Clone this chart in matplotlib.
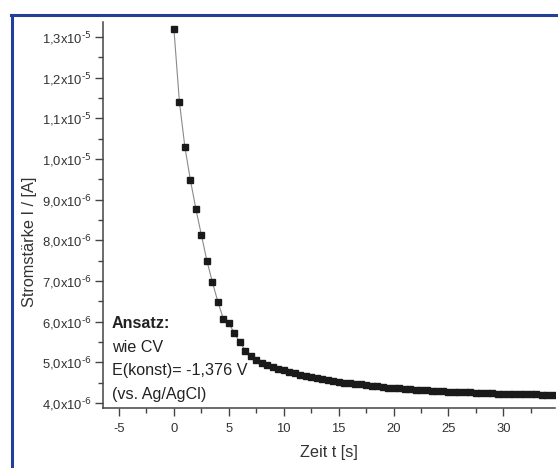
import matplotlib
matplotlib.use("Agg")
import matplotlib.pyplot as plt
from matplotlib.lines import Line2D
from matplotlib.ticker import MultipleLocator, FuncFormatter
import numpy as np

plt.rcParams['font.family'] = ['Liberation Sans', 'DejaVu Sans']
plt.rcParams['mathtext.default'] = 'regular'
plt.rcParams['axes.unicode_minus'] = False

# time in s (sample every 0.5 s)
t_s = [0.0, 0.5, 1.0, 1.5, 2.0, 2.5, 3.0, 3.5, 4.0, 4.5,
       5.0, 5.5, 6.0, 6.5, 7.0, 7.5, 8.0, 8.5, 9.0, 9.5,
       10.0, 10.5, 11.0, 11.5, 12.0, 12.5, 13.0, 13.5, 14.0, 14.5,
       15.0, 15.5, 16.0, 16.5, 17.0, 17.5, 18.0, 18.5, 19.0, 19.5,
       20.0, 20.5, 21.0, 21.5, 22.0, 22.5, 23.0, 23.5, 24.0, 24.5,
       25.0, 25.5, 26.0, 26.5, 27.0, 27.5, 28.0, 28.5, 29.0, 29.5,
       30.0, 30.5, 31.0, 31.5, 32.0, 32.5, 33.0, 33.5, 34.0, 34.5]
# current in 1e-6 A
i_micro = [13.19, 11.40, 10.29, 9.48, 8.77, 8.13, 7.50, 6.97, 6.49, 6.07,
           5.97, 5.71, 5.50, 5.29, 5.15, 5.06, 4.99, 4.93, 4.88, 4.84,
           4.80, 4.76, 4.73, 4.70, 4.67, 4.64, 4.62, 4.59, 4.57, 4.54,
           4.52, 4.50, 4.49, 4.47, 4.46, 4.44, 4.43, 4.41, 4.40, 4.38,
           4.37, 4.36, 4.35, 4.34, 4.33, 4.32, 4.31, 4.30, 4.30, 4.29,
           4.28, 4.27, 4.27, 4.26, 4.26, 4.25, 4.25, 4.24, 4.24, 4.23,
           4.23, 4.22, 4.22, 4.22, 4.21, 4.21, 4.21, 4.20, 4.20, 4.20]

x_ticks = [-5, 0, 5, 10, 15, 20, 25, 30]
y_ticks = [4e-6, 5e-6, 6e-6, 7e-6, 8e-6, 9e-6, 1.0e-5, 1.1e-5, 1.2e-5, 1.3e-5]

note_lines = ['Ansatz:', 'wie CV', 'E(konst)= -1,376 V', '(vs. Ag/AgCl)']

current = np.array(i_micro) * 1e-6


def sci_label(v, pos):
    exp = int(np.floor(np.log10(v) + 1e-9))
    mant = v / 10 ** exp
    # \text{} keeps the plain hyphen instead of a math minus
    return ('%.1f' % mant).replace('.', ',') + 'x10$^{\\text{%d}}$' % exp


fig = plt.figure(figsize=(5.58, 4.68), dpi=100)
ax = fig.add_axes([103 / 558, 1 - 408 / 468, (555 - 103) / 558, (408 - 22) / 468])

ax.plot(t_s, current, color='#8a8a8a', lw=0.8, zorder=2)
ax.plot(t_s, current, ls='none', marker='s', ms=4.6, color='#1a1a1a', zorder=3)

ax.set_xlim(-6.46, 34.7)
ax.set_ylim(3.877e-6, 1.337e-5)
ax.set_xticks(x_ticks)
ax.set_yticks(y_ticks)
ax.xaxis.set_minor_locator(MultipleLocator(2.5))
ax.yaxis.set_minor_locator(MultipleLocator(5e-7))
ax.yaxis.set_major_formatter(FuncFormatter(sci_label))

for side in ['top', 'right']:
    ax.spines[side].set_visible(False)
for side in ['left', 'bottom']:
    ax.spines[side].set_color('#444444')
    ax.spines[side].set_linewidth(1.1)

ax.tick_params(which='major', direction='out', length=6, width=1, color='#444444',
               labelsize=9.4, labelcolor='#333333', pad=2)
ax.tick_params(which='minor', direction='out', length=3.5, width=1, color='#444444')
ax.tick_params(axis='x', which='major', pad=5)

ax.set_xlabel('Zeit t [s]', fontsize=11.7, color='#333333', labelpad=7)
ax.set_ylabel('Stromstärke I / [A]', fontsize=11.7, color='#333333')
ax.yaxis.set_label_coords(-0.146, 0.43)

note_y = [0.207, 0.146, 0.0855, 0.0246]
for k, (line, yy) in enumerate(zip(note_lines, note_y)):
    ax.text(0.02, yy, line, transform=ax.transAxes, fontsize=11.6,
            fontweight='bold' if k == 0 else 'normal', color='#222222',
            va='baseline')

# blue frame around the figure
blue = '#22409a'
fig.add_artist(Line2D([11 / 558, 1.0], [1 - 14.5 / 468] * 2, transform=fig.transFigure,
                      color=blue, lw=2.2))
fig.add_artist(Line2D([11.5 / 558] * 2, [0.0, 1 - 14.5 / 468], transform=fig.transFigure,
                      color=blue, lw=2.2))

fig.savefig('out.png', dpi=100)
